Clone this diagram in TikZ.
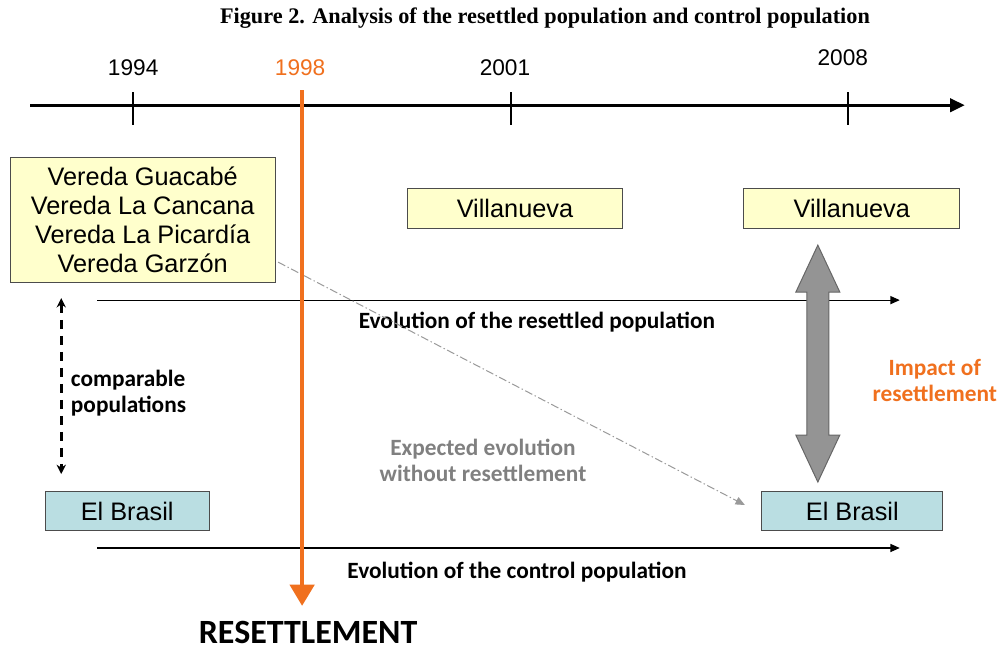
\documentclass[tikz,border=0pt]{standalone}
\usepackage{fontspec}
\setmainfont{Liberation Serif}
\newfontfamily\arialf{Liberation Sans}
\newfontfamily\calibf{Carlito}
\usetikzlibrary{arrows.meta}
\definecolor{resorange}{RGB}{240,112,30}
\definecolor{boxyellow}{RGB}{255,255,204}
\definecolor{boxblue}{RGB}{186,222,226}
\definecolor{expgray}{RGB}{128,128,128}

\begin{document}
\begin{tikzpicture}[x=0.75pt,y=-0.75pt,
  yearlbl/.style={font=\arialf\fontsize{17}{20}\selectfont},
  placebox/.style={draw=black!70,line width=0.75pt,font=\arialf\fontsize{19}{21.75}\selectfont,minimum height=30pt,inner sep=0pt},
  yellowbox/.style={placebox,fill=boxyellow},
  bluebox/.style={placebox,fill=boxblue},
  evollbl/.style={font=\calibf\bfseries\fontsize{17.5}{19.5}\selectfont},
  evolarrow/.style={line width=0.9pt,-{Triangle[length=7pt,width=6pt]}}]
\filldraw[color=white] (0,0) rectangle (1007,654);
\useasboundingbox (0,0) rectangle (1007,654);
% Drawing title
\node[font=\bfseries\fontsize{16.7}{19}\selectfont] (title) at (545,18) {Figure 2. Analysis of the resettled population and control population};
% Drawing time line
\coordinate (tlS) at (30,105);
\coordinate (tlE) at (965,105);
\draw[line width=2.2pt,-{Triangle[length=11pt,width=10pt]}] (tlS) -- (tlE);
\foreach \x in {133,511,848}
  \draw[line width=1.5pt] (\x,92) -- (\x,125);
\node[yearlbl] (y1994) at (133,67) {1994};
\node[yearlbl,text=resorange] (y1998) at (300,67) {1998};
\node[yearlbl] (y2001) at (505,67) {2001};
\node[yearlbl] (y2008) at (843,57) {2008};
% Done with time line; drawing places
\node[yellowbox,minimum width=198.75pt,minimum height=93.75pt,align=center] (v94) at (142.5,219.5)
  {Vereda Guacab\'e\\Vereda La Cancana\\Vereda La Picard\'{\i}a\\Vereda Garz\'on};
\node[yellowbox,minimum width=162pt] (v01) at (515,208) {Villanueva};
\node[yellowbox,minimum width=162pt] (v08) at (852,208) {Villanueva};
\node[bluebox,minimum width=123pt] (b94) at (127,511) {El Brasil};
\node[bluebox,minimum width=135.75pt] (b08) at (852.5,511) {El Brasil};
% Drawing evolutions
\coordinate (resS) at (97,300);
\coordinate (resE) at (900,300);
\draw[evolarrow] (resS) -- (resE);
\node[evollbl] (reslbl) at (537,322) {Evolution of the resettled population};
\coordinate (ctlS) at (97,548);
\coordinate (ctlE) at (900,548);
\draw[evolarrow] (ctlS) -- (ctlE);
\node[evollbl] (ctllbl) at (517,572) {Evolution of the control population};
% comparable populations
\coordinate (cmpT) at (61,298);
\coordinate (cmpB) at (61,474);
\draw[line width=2.2pt,dash pattern=on 7pt off 5pt,{Stealth[length=7pt,width=7pt]}-{Stealth[length=7pt,width=7pt]}] (cmpT) -- (cmpB);
\node[evollbl,anchor=west,align=left] (cmplbl) at (66,393) {comparable\\populations};
% expected evolution
\coordinate (expS) at (278,262);
\coordinate (expE) at (745,505);
\draw[expgray!80,line width=0.75pt,dash pattern=on 6pt off 2pt on 1pt off 2pt,-{Triangle[length=7pt,width=6pt]}] (expS) -- (expE);
\node[evollbl,text=expgray,align=center] (explbl) at (483,460) {Expected evolution\\without resettlement};
% Drawing impact
\coordinate (impT) at (818,245);
\draw[draw=black!60,fill=black!42,line width=0.75pt] (impT) -- ++(22,47) -- ++(-11,0) -- ++(0,143) -- ++(11,0) -- ++(-22,47) -- ++(-22,-47) -- ++(11,0) -- ++(0,-143) -- ++(-11,0) -- cycle;
\node[evollbl,text=resorange,align=center] (implbl) at (935,380) {Impact of\\resettlement};
% Drawing resettlement
\coordinate (rsTop) at (302,90);
\coordinate (rsBot) at (302,606);
\draw[resorange,line width=3.5pt,-{Triangle[length=16pt,width=18pt]}] (rsTop) -- (rsBot);
\node[font=\calibf\bfseries\fontsize{25.5}{28}\selectfont] (rslbl) at (308,633) {RESETTLEMENT};
% Done
\end{tikzpicture}
\end{document}
